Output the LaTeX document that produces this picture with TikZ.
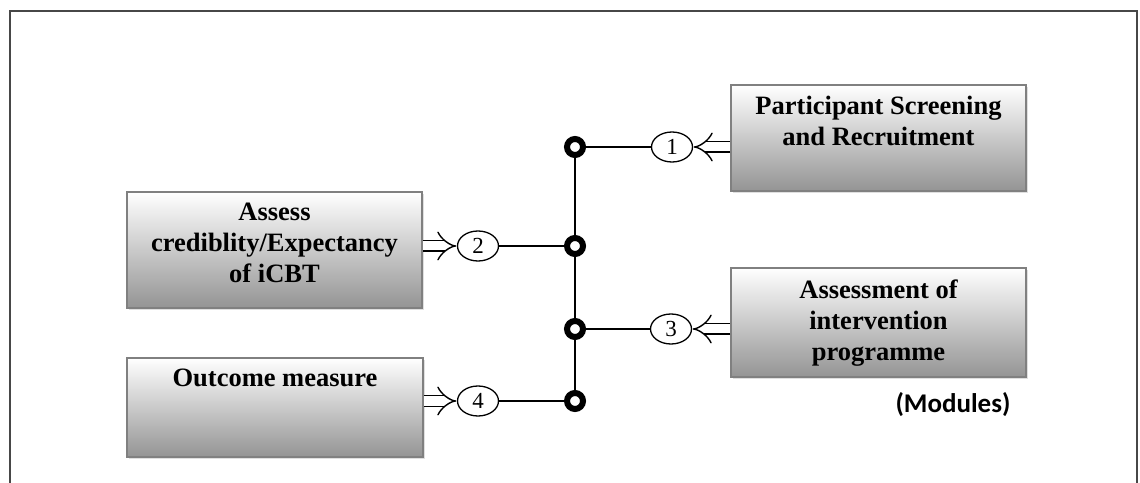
\documentclass[tikz,border=0pt]{standalone}
\usepackage{fontspec}
\setmainfont{Liberation Serif}
\newfontfamily\labelsans{Carlito}
\usetikzlibrary{arrows.meta,shapes.geometric,shadows}

\tikzset{
  x=1pt, y=1pt,
  frame/.style={draw=black!72, line width=2.6pt},
  stagebox/.style={rectangle, draw=black!50, line width=1.6pt,
    top color=white, bottom color=black!42, inner sep=0pt,
    drop shadow={shadow xshift=2pt, shadow yshift=-2pt, opacity=0.25, fill=black!50}},
  stagetext/.style={anchor=north, inner sep=0pt, align=center,
    font=\bfseries\fontsize{26.5}{31}\selectfont},
  numtag/.style={ellipse, draw=black, line width=1.3pt, fill=white,
    minimum width=41pt, minimum height=30pt, inner sep=0pt,
    font=\fontsize{23}{23}\selectfont},
  hub/.style={circle, draw=black, line width=6pt, fill=white,
    minimum size=16pt, inner sep=0pt},
  wire/.style={draw=black, line width=1.6pt},
  feed/.style={double=white, draw=black, line width=1.4pt, double distance=9pt,
    -{Implies[scale=1.6]}, shorten >=0.5pt}
}

\begin{document}
\begin{tikzpicture}
\useasboundingbox (0,0) rectangle (1140,482);

% outer frame, open at the bottom
\draw[frame] (10,-10) -- (10,471) -- (1137,471) -- (1137,-10);

% stage boxes
\node[stagebox, minimum width=295pt, minimum height=106pt] (b1) at (878.5,344) {};
\node[stagebox, minimum width=295pt, minimum height=116pt] (b2) at (274.5,232) {};
\node[stagebox, minimum width=295pt, minimum height=109pt] (b3) at (878.5,159.5) {};
\node[stagebox, minimum width=296pt, minimum height=99pt] (b4) at (275,74.5) {};

\node[stagetext] (t1) at ([yshift=-12pt]b1.north) {Participant Screening\\and Recruitment};
\node[stagetext] (t2) at ([yshift=-12pt]b2.north) {Assess\\crediblity/Expectancy\\of iCBT};
\node[stagetext] (t3) at ([yshift=-12pt]b3.north) {Assessment of\\intervention\\programme};
\node[stagetext] (t4) at ([yshift=-12pt]b4.north) {Outcome measure};

% junction points on the vertical bus
\node[hub] (h1) at (575,335) {};
\node[hub] (h2) at (575,236) {};
\node[hub] (h3) at (575,153) {};
\node[hub] (h4) at (575,81) {};

% numbered tags
\node[numtag] (n1) at (672,335) {1};
\node[numtag] (n2) at (478,236) {2};
\node[numtag] (n3) at (671,153) {3};
\node[numtag] (n4) at (478,81) {4};

% bus and branches
\draw[wire] (h1) -- (h2);
\draw[wire] (h2) -- (h3);
\draw[wire] (h3) -- (h4);
\draw[wire] (n1) -- (h1);
\draw[wire] (n2) -- (h2);
\draw[wire] (n3) -- (h3);
\draw[wire] (n4) -- (h4);

% hollow feed arrows from boxes to tags
\draw[feed] (b1.west |- n1) -- (n1);
\draw[feed] (b2.east |- n2) -- (n2);
\draw[feed] (b3.west |- n3) -- (n3);
\draw[feed] (b4.east |- n4) -- (n4);

\node[font=\labelsans\bfseries\fontsize{27}{27}\selectfont] (mod) at (953,77) {(Modules)};
\end{tikzpicture}
\end{document}
